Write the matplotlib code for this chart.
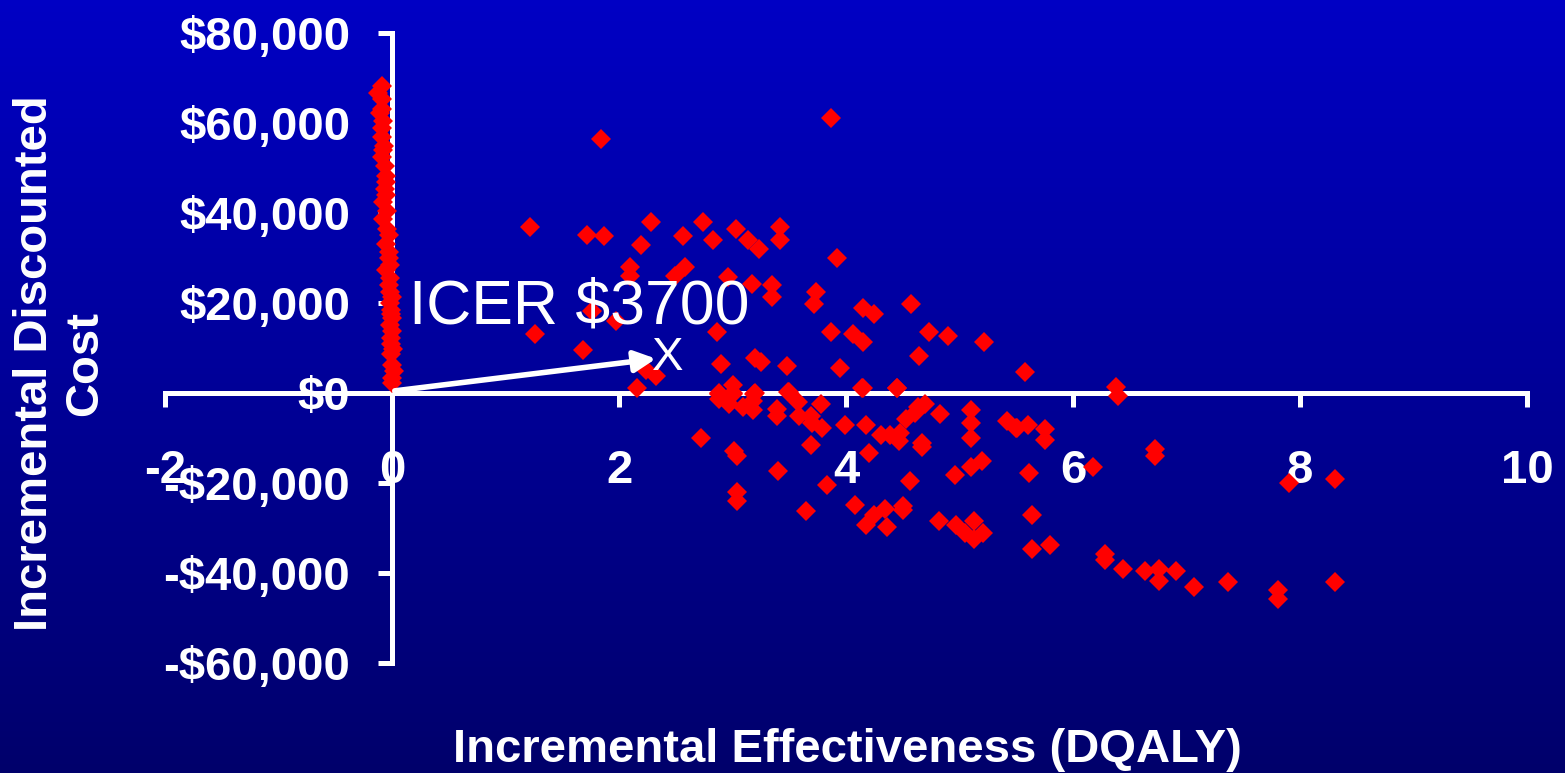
import numpy as np
import matplotlib
matplotlib.use("Agg")
import matplotlib.pyplot as plt

# simulated runs hugging the cost axis (near-zero effectiveness)
near_zero_x = [-0.09, -0.12, -0.09, -0.09, -0.105, -0.08, -0.09, -0.09, -0.08, -0.09,
               -0.06, -0.05, -0.05, -0.06, -0.05, -0.08, -0.08, -0.03, -0.05, -0.03,
               -0.03, -0.05, -0.02, -0.03, -0.02, 0.0, -0.02, -0.01, 0.0, -0.02,
               0.0, -0.01, -0.01, -0.01, 0.0, 0.02, 0.0, 0.0, -0.04, -0.02,
               -0.01, 0.01, -0.07, -0.04]
near_zero_y = [68200, 66700, 65300, 63100, 62300, 60500, 59000, 56800, 53900, 52400,
               50500, 48300, 46900, 45400, 43900, 42400, 38700, 35100, 33200, 31400,
               29900, 27300, 25500, 24000, 22500, 21400, 20000, 18500, 16600, 15200,
               13700, 12200, 10800, 8600, 6300, 4900, 3400, 2300, 40500, 28500,
               17500, 9700, 55000, 36500]

# the spread-out cloud
effect = [3.87, 1.84, 1.22, 1.72, 1.87, 2.28, 2.19, 2.56, 2.74, 2.83,
          3.03, 3.14, 3.23, 3.42, 3.42, 3.92, 2.10, 2.58, 2.49, 2.10,
          2.96, 3.17, 3.35, 3.35, 3.74, 3.72, 4.15, 4.25, 4.57, 1.76,
          1.97, 1.26, 2.86, 3.87, 4.06, 4.15, 4.73, 4.90, 5.22, 1.68,
          4.64, 2.90, 3.20, 3.25, 3.48, 3.95, 2.24, 2.33, 2.16, 4.15,
          4.45, 2.88, 3.00, 3.20, 3.50,
          2.88, 3.00, 3.00, 2.88, 2.97, 3.09, 3.19, 3.18, 3.18, 3.49,
          3.58, 3.39, 3.39, 3.59, 3.69, 3.70, 3.78, 3.79, 4.14, 4.45,
          3.99, 4.18, 4.31, 4.39, 4.48, 4.47, 4.53, 4.61, 4.70, 4.63,
          4.83, 4.67, 4.67, 5.10, 5.10, 5.10, 5.42, 5.51, 5.60, 5.75,
          5.75, 2.72, 3.01, 3.04, 3.69, 4.20, 3.40, 3.83, 4.56, 4.96,
          5.10, 5.20, 5.61, 6.18, 3.04, 3.04, 3.65, 4.08, 4.25, 4.34,
          4.18, 4.36, 4.50, 4.50, 4.82, 4.97, 5.05, 5.13, 5.13, 5.21,
          5.64, 5.64, 5.80,
          5.58, 6.38, 6.40, 5.50, 6.72, 6.72, 7.90, 8.31, 6.28, 6.28,
          6.44, 6.63, 6.76, 6.76, 6.91, 7.07, 7.37, 7.81, 7.81, 8.31]
cost = [61200, 56400, 36900, 35200, 34800, 37900, 33000, 34800, 37900, 33900,
        36500, 33900, 32100, 37000, 33900, 29900, 27900, 28100, 26100, 25900,
        25700, 24200, 23900, 21300, 22400, 19700, 18900, 17500, 19700, 18300,
        15900, 13100, 13500, 13500, 13100, 11300, 13500, 12700, 11300, 9600,
        8200, 6500, 7800, 6900, 6000, 5600, 5100, 3800, 1200, 1200,
        1200, 0, 0, 0, 300,
        -300, 1800, -300, -1400, -2500, -3200, -300, -1800, -3800, 300,
        -1900, -3500, -5000, -5000, -5100, -6600, -2400, -7700, 1200, 1200,
        -7200, -7200, -9400, -9400, -8800, -10600, -5800, -4400, -2400, -3200,
        -4600, -11000, -12100, -3800, -6600, -9900, -6200, -7700, -7100, -7900,
        -10500, -9900, -12800, -13900, -11600, -13400, -17400, -20500, -19600, -18300,
        -16500, -15200, -17800, -16500, -22000, -23900, -26200, -24900, -27100, -25800,
        -29300, -29800, -25000, -26100, -28400, -29300, -31100, -28400, -32400, -31100,
        -27100, -34600, -33700,
        4700, 1300, -700, -7700, -12500, -14100, -20000, -19200, -35700, -37000,
        -39000, -39500, -39000, -41700, -39500, -43000, -42100, -43800, -45700, -42100]

x_ticks = [-2, 0, 2, 4, 6, 8, 10]
y_ticks = [80000, 60000, 40000, 20000, 0, -20000, -40000, -60000]
y_tick_labels = ["$80,000", "$60,000", "$40,000", "$20,000", "$0",
                 "-$20,000", "-$40,000", "-$60,000"]

plt.rcParams['font.family'] = ['Liberation Sans', 'DejaVu Sans']

fig = plt.figure(figsize=(15.65, 7.73), dpi=100)

# blue gradient background
bg = fig.add_axes([0, 0, 1, 1], zorder=-10)
grad = np.linspace(0, 1, 256).reshape(-1, 1)
top = np.array([0, 0, 0.77])
bottom = np.array([0, 0, 0.42])
img = top + (bottom - top) * grad[..., None]
bg.imshow(img, aspect='auto', extent=[0, 1, 0, 1])
bg.axis('off')

ax = fig.add_axes([165 / 1565, 110 / 773, 1362 / 1565, 630 / 773])
ax.set_facecolor('none')

ax.plot(near_zero_x, near_zero_y, 'D', color='#ff0000', ms=10, mew=0, ls='none', zorder=3)
ax.plot(effect, cost, 'D', color='#ff0000', ms=10, mew=0, ls='none', zorder=3)

ax.set_xlim(-2, 10)
ax.set_ylim(-60000, 80000)

for side in ['top', 'right']:
    ax.spines[side].set_visible(False)
ax.spines['left'].set_position(('data', 0))
ax.spines['bottom'].set_position(('data', 0))
for side in ['left', 'bottom']:
    ax.spines[side].set_color('white')
    ax.spines[side].set_linewidth(3.6)
    ax.spines[side].set_zorder(2)

ax.set_xticks(x_ticks)
ax.set_xticklabels([str(t) for t in x_ticks])
ax.set_yticks(y_ticks)
ax.set_yticklabels(y_tick_labels)
ax.tick_params(axis='x', direction='out', length=10, width=3.6, color='white',
               labelcolor='white', labelsize=34, pad=30)
ax.tick_params(axis='y', direction='out', length=10, width=3.6, color='white',
               labelcolor='white', labelsize=34, pad=20)
for lbl in ax.get_xticklabels() + ax.get_yticklabels():
    lbl.set_fontweight('bold')

# ICER annotation
ax.text(0.15, 15500, "ICER $3700", fontsize=45, color='white', va='baseline', zorder=5)
ax.text(2.29, 5100, "X", fontsize=34, color='white', va='baseline', zorder=5)
ax.annotate('', xy=(2.35, 7700), xytext=(0, 400),
            arrowprops=dict(arrowstyle='-|>', color='white', lw=4, mutation_scale=32),
            zorder=5)

fig.text(60 / 1565, 0.53, "Incremental Discounted\nCost", rotation=90, ha='center',
         va='center', ma='center', fontsize=34, fontweight='bold', color='white',
         linespacing=1.2)
fig.text(847 / 1565, 23 / 773, "Incremental Effectiveness (DQALY)", ha='center',
         va='center', fontsize=34, fontweight='bold', color='white')

fig.savefig("out.png", dpi=100)
